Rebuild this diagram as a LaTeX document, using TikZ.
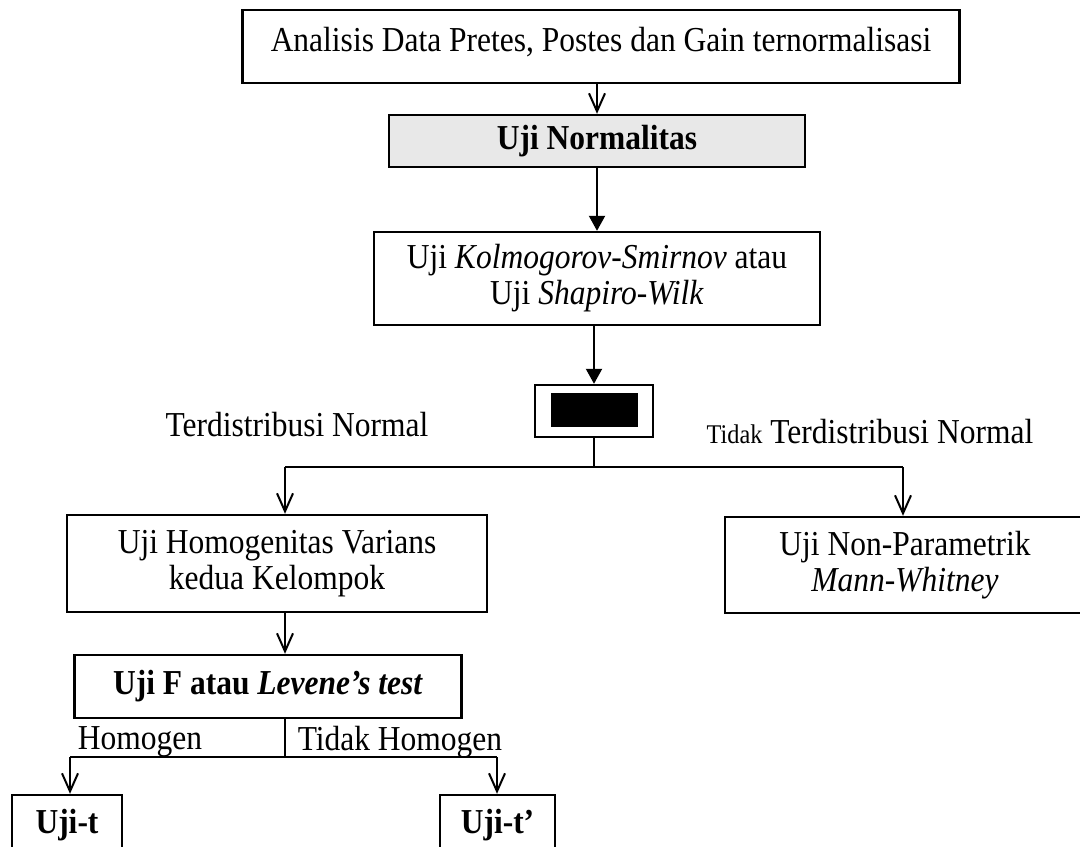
\documentclass[tikz,border=0pt]{standalone}
\usepackage{fontspec}
\setmainfont[FakeStretch=0.9]{Liberation Serif}
\usetikzlibrary{arrows.meta}

\begin{document}
\begin{tikzpicture}[x=0.5pt,y=-0.5pt,font=\fontsize{17.5}{18}\selectfont,
    box/.style={draw,line width=1.2pt,align=center,inner sep=0pt},
    link/.style={line width=1pt},
    vee/.style={link,-{Straight Barb[length=9pt,width=8pt]}},
    tri/.style={link,-{Triangle[length=7.5pt,width=8pt]}}]
  \useasboundingbox (0,0) rectangle (1080,846);
  \clip (0,0) rectangle (1080,846);

  \node[box,minimum width=358.5pt,minimum height=36.5pt,text depth=7pt] (top) at (601,46.5)
    {Analisis Data Pretes, Postes dan Gain ternormalisasi};
  \node[box,fill=gray!18,minimum width=208pt,minimum height=26pt] (normal) at (597,141)
    {\bfseries Uji Normalitas};
  \node[box,minimum width=223pt,minimum height=46.5pt] (ks) at (597,278.5)
    {Uji \textit{Kolmogorov-Smirnov} atau\\ Uji \textit{Shapiro-Wilk}};
  \node[box,minimum width=59pt,minimum height=26pt] (blk) at (594,411) {};
  \node[fill=black,minimum width=43.5pt,minimum height=17pt] (blkfill) at (594.5,410) {};

  \node (lnorm) at (297,425) {Terdistribusi Normal};
  \node (ltidak) at (870,432) {{\fontsize{13.5}{14}\selectfont Tidak} Terdistribusi Normal};

  \node[box,minimum width=210pt,minimum height=48.5pt] (homvar) at (277,563.5)
    {Uji Homogenitas Varians\\ kedua Kelompok};
  \node[box,minimum width=180pt,minimum height=48pt] (nonpar) at (905,565)
    {Uji Non-Parametrik\\ \textit{Mann-Whitney}};
  \node[box,minimum width=193.5pt,minimum height=31.5pt] (levene) at (268,686.5)
    {\bfseries Uji F atau \textit{Levene's test}};

  \node (lhom) at (140,742) {Homogen};
  \node (lthom) at (400,742) {Tidak Homogen};

  \node[box,minimum width=55pt,minimum height=30pt] (ujit) at (67,825) {\bfseries Uji-t};
  \node[box,minimum width=57.5pt,minimum height=30pt] (ujit2) at (497.5,825) {\bfseries Uji-t’};

  % alur utama
  \draw[vee] (top.south -| normal.north) -- (normal.north);
  \draw[tri] (normal) -- (ks);
  \draw[tri] (ks.south -| blk.north) -- (blk.north);

  \coordinate (fork) at (594,467);
  \coordinate (forkL) at (285,467);
  \coordinate (forkR) at (903,467);
  \draw[link] (blk.south) -- (fork);
  \draw[link] (forkL) -- (forkR);
  \draw[vee] (forkL) -- (forkL |- homvar.north);
  \draw[vee] (forkR) -- (forkR |- nonpar.north);
  \draw[vee] (homvar.south -| forkL) -- (levene.north -| forkL);

  \coordinate (fork2) at (285,757);
  \coordinate (fork2L) at (70,757);
  \coordinate (fork2R) at (497,757);
  \draw[link] (levene.south -| fork2) -- (fork2);
  \draw[link] (fork2L) -- (fork2R);
  \draw[vee] (fork2L) -- (fork2L |- ujit.north);
  \draw[vee] (fork2R) -- (fork2R |- ujit2.north);
\end{tikzpicture}
\end{document}
